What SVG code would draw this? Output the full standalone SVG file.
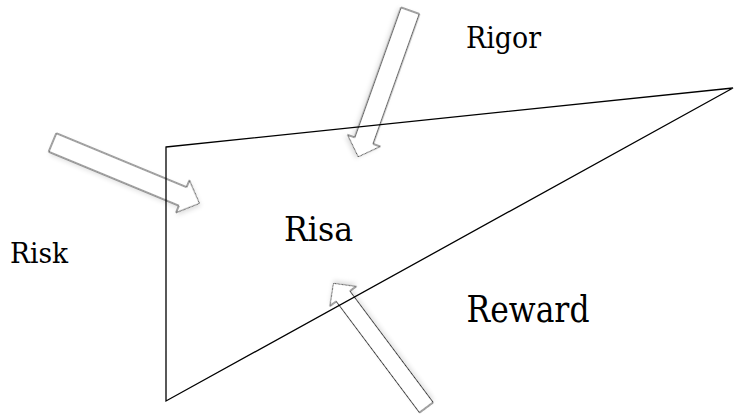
<svg xmlns="http://www.w3.org/2000/svg" width="736" height="416" viewBox="0 0 736 416">
<style>
  text { font-family: 'DejaVu Serif', 'Liberation Serif', serif; fill: #000; }
  .arr { fill: #fff; stroke: #3a3a3a; stroke-width: 1; stroke-linejoin: miter; }
  .tri { fill: none; stroke: #000; stroke-width: 1.3; stroke-linejoin: miter; }
</style>
<defs>
  <filter id="sh" x="-20%" y="-20%" width="140%" height="140%">
    <feDropShadow dx="2" dy="2" stdDeviation="2" flood-color="#000" flood-opacity="0.12"/>
  </filter>
</defs>
<rect width="736" height="416" fill="#fff"/>
<g id="connectors">
  <g id="arrow-rigor" transform="translate(410.2,10.7) rotate(109.6)">
    <polygon class="arr" filter="url(#sh)" points="0,-9.75 138,-9.75 138,-17.3 155,0 138,17.3 138,9.75 0,9.75"/>
  </g>
  <g id="arrow-risk" transform="translate(52.5,142.5) rotate(22.5)">
    <polygon class="arr" filter="url(#sh)" points="0,-10 141,-10 141,-17.5 159,0 141,17.5 141,10 0,10"/>
  </g>
  <g id="arrow-reward" transform="translate(426.3,407.5) rotate(-126.8)">
    <polygon class="arr" filter="url(#sh)" points="0,-8.5 139,-8.5 139,-16.4 155,0 139,16.4 139,8.5 0,8.5"/>
  </g>
</g>
<g id="risa">
  <polygon class="tri" points="166,147 733,88 166,401"/>
  <text x="284" y="241" font-size="33" textLength="69" lengthAdjust="spacingAndGlyphs">Risa</text>
</g>
<g id="rigor">
  <text x="466" y="48" font-size="29" textLength="75" lengthAdjust="spacingAndGlyphs">Rigor</text>
</g>
<g id="risk">
  <text x="10" y="263" font-size="28" textLength="58" lengthAdjust="spacingAndGlyphs">Risk</text>
</g>
<g id="reward">
  <text x="466.5" y="321.5" font-size="37" textLength="123" lengthAdjust="spacingAndGlyphs">Reward</text>
</g>
</svg>
